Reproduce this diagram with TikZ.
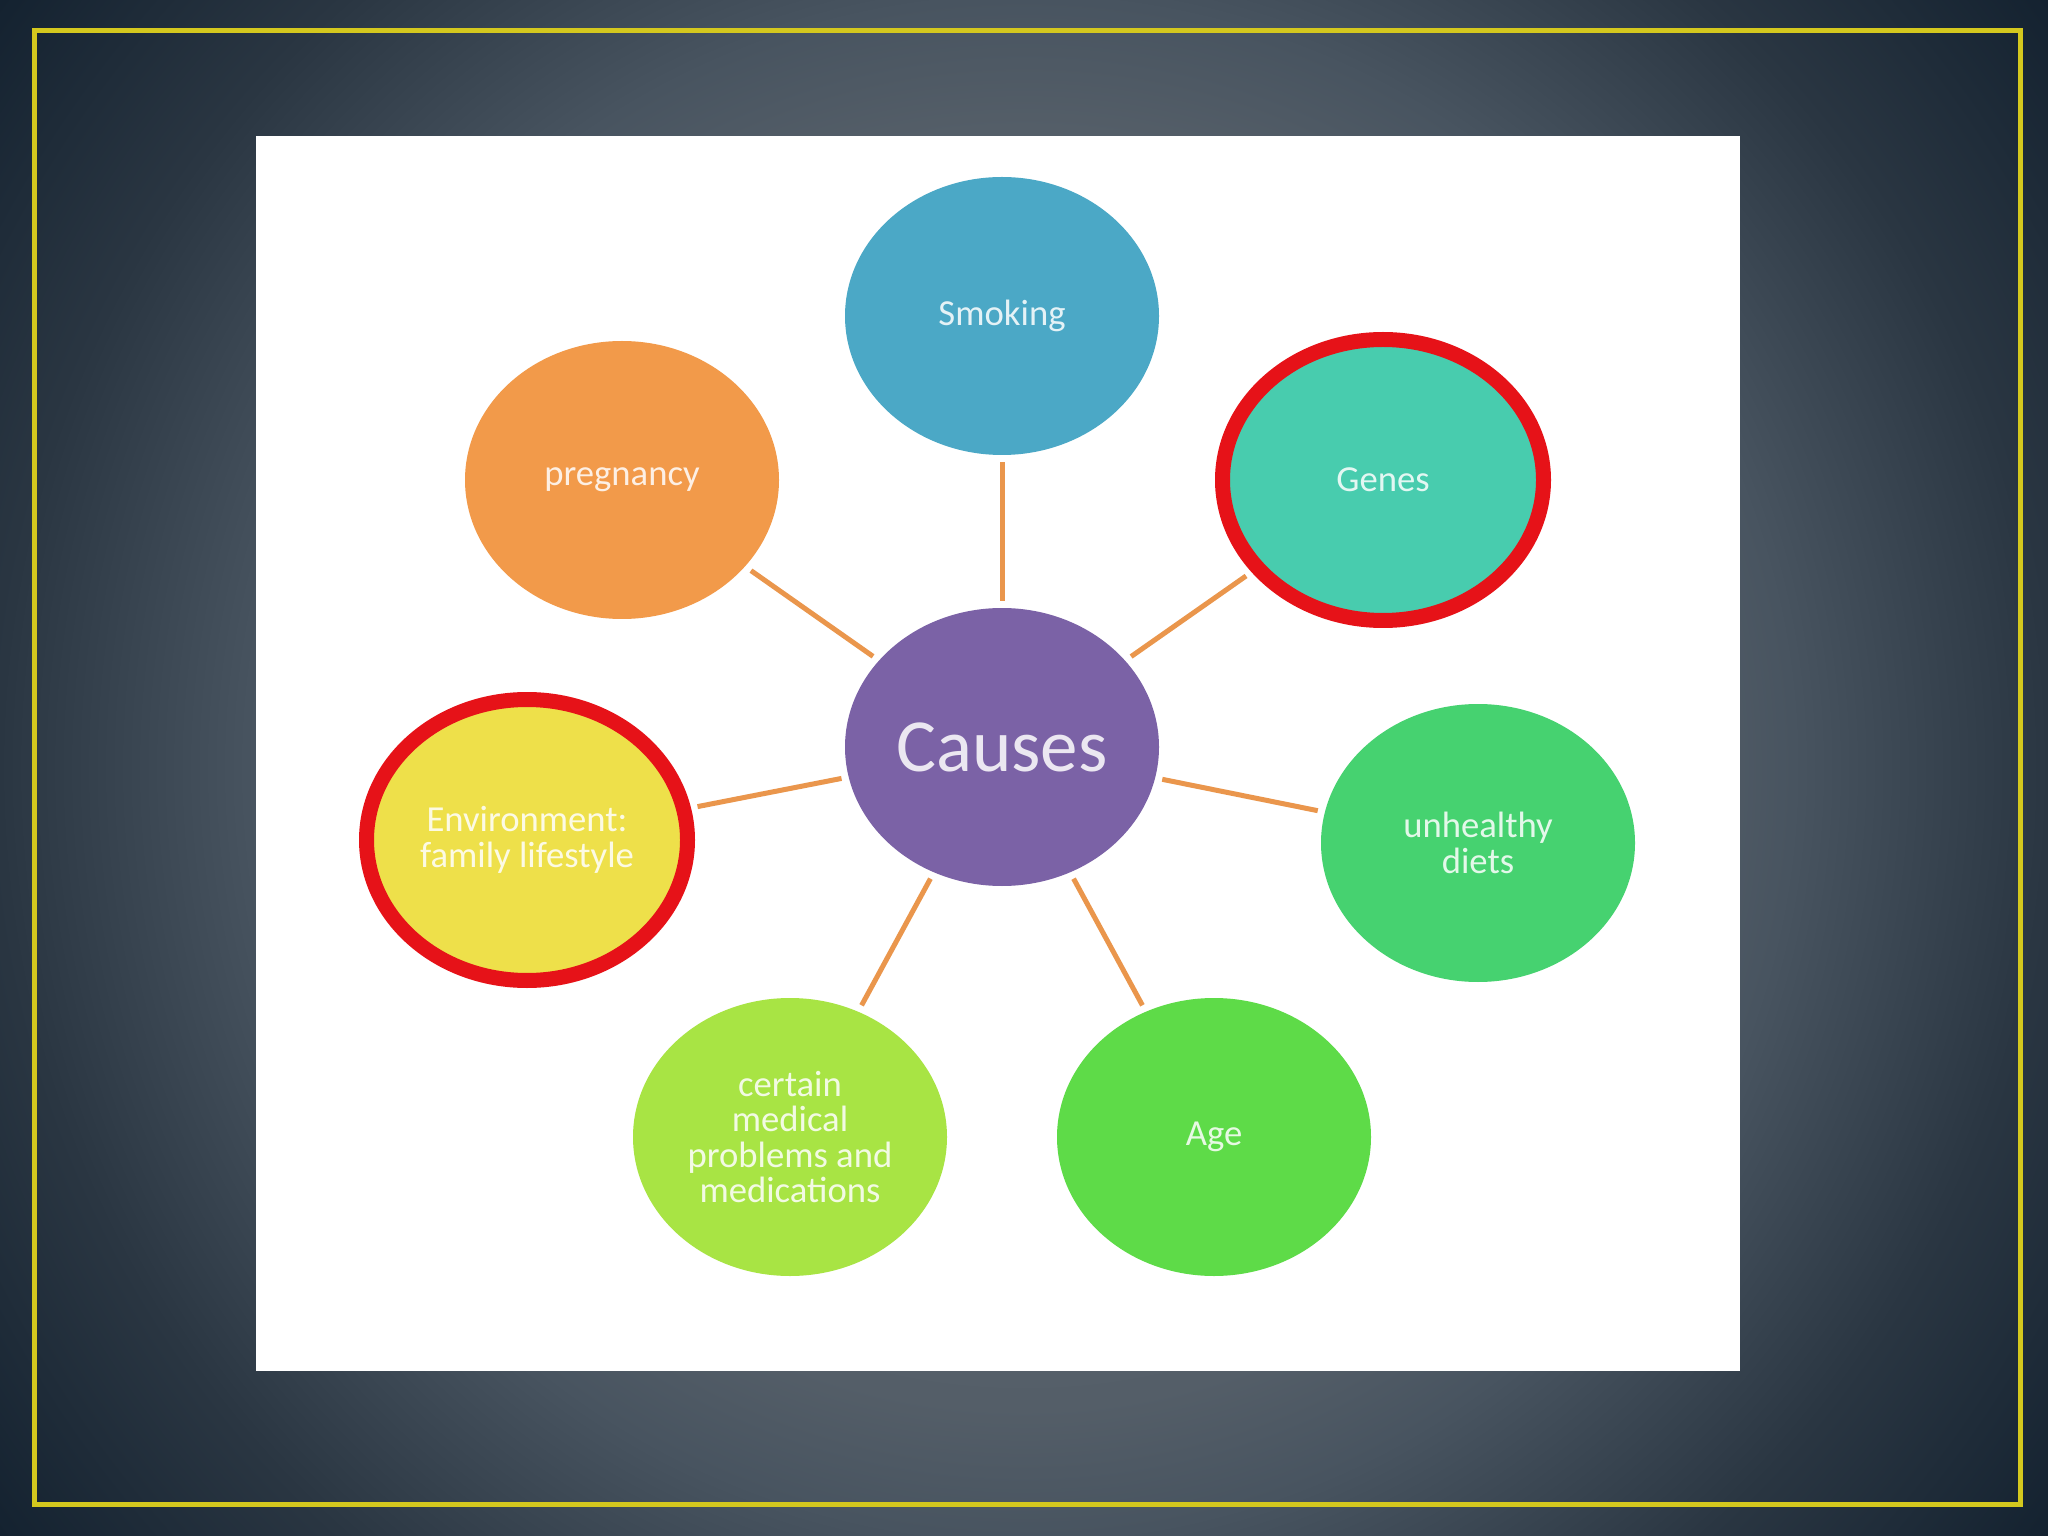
\documentclass[tikz,border=0pt]{standalone}
\usepackage{fontspec}
\setmainfont{Carlito}
\usepackage{xcolor}
\usepackage{tikz}
\usetikzlibrary{shapes.geometric}
\definecolor{bgcentre}{RGB}{100,110,120}
\definecolor{bgring}{RGB}{84,94,104}
\definecolor{bgmid}{RGB}{72,84,96}
\definecolor{bgdark}{RGB}{42,54,66}
\definecolor{bgedge}{RGB}{20,34,48}
\definecolor{framegold}{RGB}{212,200,30}
\definecolor{ringred}{RGB}{230,18,24}
\definecolor{spokeorange}{RGB}{234,150,76}
\definecolor{causepurple}{RGB}{123,98,166}
\definecolor{smokeblue}{RGB}{75,168,198}
\definecolor{geneteal}{RGB}{72,204,174}
\definecolor{pregorange}{RGB}{242,154,74}
\definecolor{envyellow}{RGB}{238,224,74}
\definecolor{dietgreen}{RGB}{70,210,112}
\definecolor{agegreen}{RGB}{94,219,72}
\definecolor{medlime}{RGB}{168,228,68}
% the middle 50bp square of a shading is what fills the path
\pgfdeclareradialshading{bgglow}{\pgfpoint{0bp}{0bp}}{%
  color(0bp)=(bgcentre); color(12.3bp)=(bgring); color(14.8bp)=(bgmid);
  color(19.7bp)=(bgdark); color(24.6bp)=(bgedge); color(50bp)=(bgedge)}
\tikzstyle{bubble}=[ellipse,inner sep=0pt,minimum width=94.2pt,minimum height=83.4pt,
  text=white,text opacity=.85,align=center,font=\fontsize{11}{10.6}\selectfont]
\tikzstyle{ring}=[draw=ringred,line width=4.5pt,minimum width=96.3pt,minimum height=84.3pt]
\tikzstyle{spoke}=[line width=1.5pt,draw=spokeorange,shorten <=2pt,shorten >=2pt]

\begin{document}
\begin{tikzpicture}[x=.3pt,y=-.3pt]
	\useasboundingbox (0,0) rectangle (2048,1536);
	\begin{scope}
		\clip (0,0) rectangle (2048,1536);
		\shade[shading=bgglow] (-276,-532) rectangle (2324,2068);
	\end{scope}
	\draw[framegold,line width=1.5pt] (34,31) rectangle (2020,1504);
	\fill[white] (256,136) rectangle (1740,1371);
	\node[bubble,fill=causepurple,font=\fontsize{22.5}{25}\selectfont] (C) at (1002,747) {Causes};
	\node[bubble,fill=smokeblue] (S) at (1002,316) {Smoking};
	\node[bubble,ring,fill=geneteal] (G) at (1383,480) {Genes};
	\node[bubble,fill=pregorange] (P) at (622,480) {pregnancy};
	\node[bubble,ring,fill=envyellow] (E) at (527,840) {Environment:\\family lifestyle};
	\node[bubble,fill=dietgreen] (D) at (1478,843) {unhealthy\\diets};
	\node[bubble,fill=agegreen] (A) at (1214,1137) {Age};
	\node[bubble,fill=medlime] (M) at (790,1137) {certain\\medical\\problems and\\medications};
	\foreach \n in {S,G,P,E,D,A,M}
		\draw[spoke] (C) -- (\n);
\end{tikzpicture}
\end{document}
